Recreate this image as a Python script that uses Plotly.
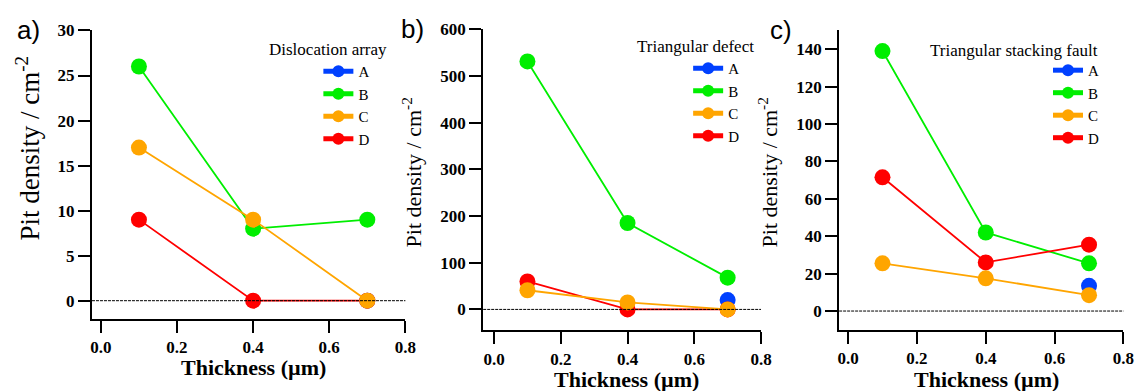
import plotly.graph_objects as go

# ---------------- data ----------------
thickness = [0.1, 0.4, 0.7]
series = ["A", "B", "C", "D"]
colors = {"A": "#0040FF", "B": "#00EE00", "C": "#FFA500", "D": "#FF0000"}

# a) Dislocation array (pits / cm^-2)
disloc_A = [None, None, 0]
disloc_B = [26, 8, 9]
disloc_C = [17, 9, 0]
disloc_D = [9, 0, 0]

# b) Triangular defect
tridef_A = [None, None, 20]
tridef_B = [531, 185, 68]
tridef_C = [41, 15, 0]
tridef_D = [60, 0, 0]

# c) Triangular stacking fault
trisf_A = [None, None, 13.5]
trisf_B = [139, 42, 25.5]
trisf_C = [25.5, 17.5, 8.5]
trisf_D = [71.5, 26, 35.5]

panel_titles = ["Dislocation array", "Triangular defect", "Triangular stacking fault"]
panel_letters = ["a)", "b)", "c)"]
x_title = "Thickness (µm)"
y_title = "Pit density / cm<sup>-2</sup>"
x_ticks = [0.0, 0.2, 0.4, 0.6, 0.8]
x_ticklabels = ["0.0", "0.2", "0.4", "0.6", "0.8"]
y_ticks = [[0, 5, 10, 15, 20, 25, 30],
           [0, 100, 200, 300, 400, 500, 600],
           [0, 20, 40, 60, 80, 100, 120, 140]]

panels = [
    {"A": disloc_A, "B": disloc_B, "C": disloc_C, "D": disloc_D},
    {"A": tridef_A, "B": tridef_B, "C": tridef_C, "D": tridef_D},
    {"A": trisf_A, "B": trisf_B, "C": trisf_C, "D": trisf_D},
]

# ---------------- layout helpers ----------------
W, H = 1148, 391
def px(x):
    return x / W
def py(y):
    return 1 - y / H

# plot boxes in pixels: (left, right, top, bottom)
boxes = [(91, 408, 22, 317), (486.7, 767.7, 20.7, 329), (846.7, 1134.3, 22, 328.3)]
xranges = [[-0.0234, 0.8], [-0.0326, 0.8], [-0.026, 0.8]]
yranges = [[-2, 30], [-45, 600], [-10, 150]]

serif = "Liberation Serif"
sans = "Liberation Sans"

fig = go.Figure()
draw_order = ["A", "B", "D", "C"]
legend_ids = ["legend", "legend2", "legend3"]
for i, data in enumerate(panels):
    sfx = "" if i == 0 else str(i + 1)
    for name in draw_order:
        fig.add_trace(go.Scatter(
            x=thickness, y=data[name], name=name,
            mode="lines+markers",
            line=dict(color=colors[name], width=1.8),
            marker=dict(color=colors[name], size=16, line=dict(width=0)),
            xaxis="x" + sfx, yaxis="y" + sfx,
            legend=legend_ids[i],
            legendrank=series.index(name) + 1,
            connectgaps=False,
        ))

fig.update_layout(
    width=W, height=H,
    margin=dict(l=0, r=0, t=0, b=0),
    paper_bgcolor="white", plot_bgcolor="white",
    showlegend=True,
    font=dict(family=serif, color="black", size=17),
)

tickfont = dict(family=serif, size=17, color="black")
for i in range(3):
    sfx = "" if i == 0 else str(i + 1)
    l, r, t, b = boxes[i]
    xtt = ["<b>%s</b>" % s for s in x_ticklabels]
    ytt = ["<b>%d</b>" % v for v in y_ticks[i]]
    xa = go.layout.XAxis(
        domain=[px(l), px(r)], range=xranges[i], anchor="y" + sfx,
        tickmode="array", tickvals=x_ticks, ticktext=xtt,
        ticks="outside", ticklen=12, tickwidth=2, tickcolor="black",
        showline=True, linecolor="black", linewidth=2,
        showgrid=False, zeroline=False, tickfont=tickfont,
    )
    ya = go.layout.YAxis(
        domain=[py(b), py(t)], range=yranges[i], anchor="x" + sfx,
        tickmode="array", tickvals=y_ticks[i], ticktext=ytt,
        ticks="outside", ticklen=12, tickwidth=2, tickcolor="black",
        showline=True, linecolor="black", linewidth=2,
        showgrid=False, zeroline=False, tickfont=tickfont,
    )
    fig.update_layout({"xaxis" + sfx: xa, "yaxis" + sfx: ya})

legend_pos = [(320, 47), (694, 44), (1058, 46)]
for i, lid in enumerate(legend_ids):
    lx, ly = legend_pos[i]
    fig.update_layout({lid: dict(
        x=px(lx), y=py(ly), xanchor="left", yanchor="top",
        font=dict(family=serif, size=15, color="black"),
        itemsizing="constant", bgcolor="rgba(0,0,0,0)",
        traceorder="normal", tracegroupgap=0,
    )})

# zero reference lines
for i in range(3):
    sfx = "" if i == 0 else str(i + 1)
    fig.add_shape(type="line", xref="x" + sfx + " domain", x0=0, x1=1,
                  yref="y" + sfx, y0=0, y1=0,
                  line=dict(color="black", width=1, dash="3px,1px"))

annotations = []
# legend titles
leg_title_pos = [(268, 41), (640, 38), (937, 42)]
for i, (tx, ty) in enumerate(leg_title_pos):
    annotations.append(dict(text=panel_titles[i], x=px(tx), y=py(ty), xref="paper", yref="paper",
                            xanchor="left", yanchor="middle", showarrow=False,
                            font=dict(family=serif, size=17, color="black")))
# panel letters
letter_pos = [(13, 21), (402, 20), (775, 22)]
for i, (tx, ty) in enumerate(letter_pos):
    annotations.append(dict(text=panel_letters[i], x=px(tx), y=py(ty), xref="paper", yref="paper",
                            xanchor="left", yanchor="middle", showarrow=False,
                            font=dict(family=sans, size=26, color="black")))
# x titles
xt_pos = [(254.5, 367), (632, 379), (995.5, 379)]
for i, (tx, ty) in enumerate(xt_pos):
    annotations.append(dict(text=x_title, x=px(tx), y=py(ty), xref="paper", yref="paper",
                            xanchor="center", yanchor="middle", showarrow=False,
                            font=dict(family=serif, size=22, color="black", weight="bold")))
# y titles
yt_pos = [(26, 142, 27), (415, 167, 22), (775, 167, 22)]
for i, (tx, ty, fs) in enumerate(yt_pos):
    annotations.append(dict(text=y_title, x=px(tx), y=py(ty), xref="paper", yref="paper",
                            xanchor="center", yanchor="middle", showarrow=False, textangle=-90,
                            font=dict(family=serif, size=fs, color="black")))
fig.update_layout(annotations=annotations)

fig.write_html("out.html")
